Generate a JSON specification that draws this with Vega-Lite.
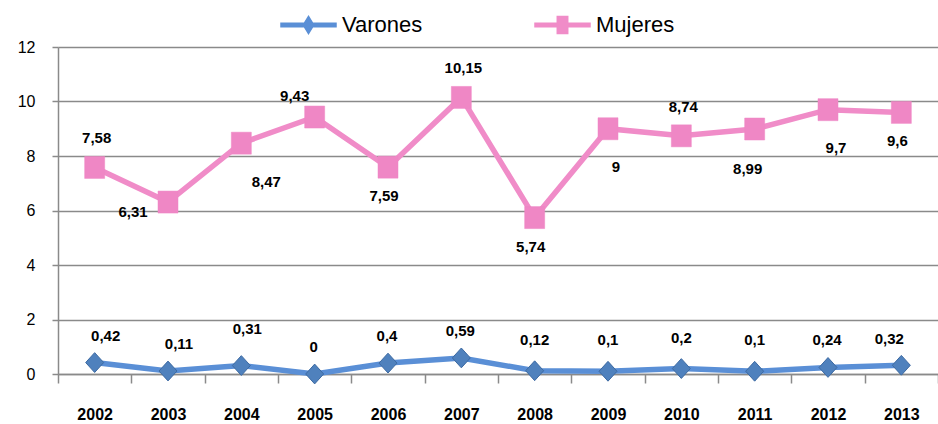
{
  "$schema": "https://vega.github.io/schema/vega-lite/v6.json",
  "width": 880,
  "height": 327,
  "autosize": {"type": "none"},
  "padding": {"left": 58, "top": 47, "right": 0, "bottom": 50},
  "background": "#ffffff",
  "config": {
    "view": {"stroke": null},
    "font": "Liberation Sans",
    "legend": {
      "orient": "none", "direction": "horizontal", "title": null,
      "legendX": 222, "legendY": -51, "padding": 0,
      "symbolSize": 3025, "symbolOpacity": 1, "labelOffset": 5, "columnPadding": 109,
      "labelFont": "Liberation Sans", "labelFontSize": 22, "labelColor": "#000000", "labelLimit": 300
    }
  },
  "data": {
    "values": [
      {"year": "2002", "serie": "Varones", "value": 0.42},
      {"year": "2003", "serie": "Varones", "value": 0.11},
      {"year": "2004", "serie": "Varones", "value": 0.31},
      {"year": "2005", "serie": "Varones", "value": 0},
      {"year": "2006", "serie": "Varones", "value": 0.4},
      {"year": "2007", "serie": "Varones", "value": 0.59},
      {"year": "2008", "serie": "Varones", "value": 0.12},
      {"year": "2009", "serie": "Varones", "value": 0.1},
      {"year": "2010", "serie": "Varones", "value": 0.2},
      {"year": "2011", "serie": "Varones", "value": 0.1},
      {"year": "2012", "serie": "Varones", "value": 0.24},
      {"year": "2013", "serie": "Varones", "value": 0.32},
      {"year": "2002", "serie": "Mujeres", "value": 7.58},
      {"year": "2003", "serie": "Mujeres", "value": 6.31},
      {"year": "2004", "serie": "Mujeres", "value": 8.47},
      {"year": "2005", "serie": "Mujeres", "value": 9.43},
      {"year": "2006", "serie": "Mujeres", "value": 7.59},
      {"year": "2007", "serie": "Mujeres", "value": 10.15},
      {"year": "2008", "serie": "Mujeres", "value": 5.74},
      {"year": "2009", "serie": "Mujeres", "value": 9},
      {"year": "2010", "serie": "Mujeres", "value": 8.74},
      {"year": "2011", "serie": "Mujeres", "value": 8.99},
      {"year": "2012", "serie": "Mujeres", "value": 9.7},
      {"year": "2013", "serie": "Mujeres", "value": 9.6}
    ]
  },
  "transform": [
    {"calculate": "replace(format(datum.value, '~g'), '.', ',')", "as": "label"}
  ],
  "encoding": {
    "x": {
      "field": "year", "type": "ordinal",
      "scale": {"paddingInner": 0, "paddingOuter": 0},
      "axis": {
        "title": null, "labelAngle": 0,
        "labelFont": "Liberation Sans", "labelFontSize": 16, "labelFontWeight": "bold", "labelColor": "#000000",
        "labelPadding": 23,
        "domain": true, "domainColor": "#8a8a8a", "domainWidth": 1.5,
        "ticks": true, "tickBand": "extent", "tickSize": 9, "tickColor": "#8a8a8a", "tickWidth": 1.5,
        "grid": false
      }
    },
    "y": {
      "field": "value", "type": "quantitative",
      "scale": {"domain": [0, 12], "nice": false, "zero": true},
      "axis": {
        "title": null, "values": [0, 2, 4, 6, 8, 10, 12],
        "labelFont": "Liberation Sans", "labelFontSize": 16, "labelColor": "#000000",
        "labelPadding": 17,
        "domain": true, "domainColor": "#8a8a8a", "domainWidth": 1.5,
        "ticks": true, "tickSize": 6, "tickColor": "#8a8a8a", "tickWidth": 1.5,
        "grid": true, "gridColor": "#8a8a8a", "gridWidth": 1.5
      }
    }
  },
  "layer": [
    {
      "mark": {"type": "point", "filled": true, "opacity": 0, "size": 1},
      "encoding": {
        "color": {
          "field": "serie", "type": "nominal",
          "scale": {"domain": ["Varones", "Mujeres"], "range": ["#5A8FD6", "#F08CC8"]},
          "legend": {
            "encode": {
              "symbols": {
                "update": {
                  "stroke": {"signal": "datum.value == 'Varones' ? '#4F81BD' : '#EF87C5'"},
                  "opacity": {"value": 1},
                  "size": {"value": 3025}
                }
              }
            }
          }
        },
        "shape": {
          "field": "serie", "type": "nominal",
          "scale": {
            "domain": ["Varones", "Mujeres"],
            "range": [
              "M-1,-0.06H1V0.06H-1Z M0,-0.31L0.19,0L0,0.31L-0.19,0Z",
              "M-1,-0.06H1V0.06H-1Z M-0.19,-0.31H0.19V0.31H-0.19Z"
            ]
          },
          "legend": {
            "encode": {
              "symbols": {
                "update": {
                  "stroke": {"signal": "datum.value == 'Varones' ? '#4F81BD' : '#EF87C5'"},
                  "opacity": {"value": 1},
                  "size": {"value": 3025}
                }
              }
            }
          }
        }
      }
    },
    {
      "mark": {"type": "line", "strokeWidth": 5.5},
      "encoding": {
        "color": {
          "field": "serie", "type": "nominal",
          "legend": null
        }
      }
    },
    {
      "transform": [{"filter": "datum.serie == 'Varones'"}],
      "mark": {"type": "point", "shape": "M0,-1.1L1,0L0,1.1L-1,0Z", "size": 324, "filled": true, "fill": "#4F81BD", "stroke": "#3D6AA2", "strokeWidth": 1, "opacity": 1}
    },
    {
      "transform": [{"filter": "datum.serie == 'Mujeres'"}],
      "mark": {"type": "point", "shape": "M-1,-1.1H1V1.1H-1Z", "size": 400, "filled": true, "fill": "#EF87C5", "stroke": "#EF87C5", "strokeWidth": 0.5, "opacity": 1}
    },
    {
      "transform": [{"filter": {"and": [{"field": "serie", "equal": "Varones"}, {"field": "year", "oneOf": ["2002", "2003"]}]}}],
      "mark": {"type": "text", "dx": 11, "dy": -27, "font": "Liberation Sans", "fontSize": 15, "fontWeight": "bold", "color": "#000000"},
      "encoding": {"text": {"field": "label"}}
    },
    {
      "transform": [{"filter": {"and": [{"field": "serie", "equal": "Varones"}, {"field": "year", "oneOf": ["2004"]}]}}],
      "mark": {"type": "text", "dx": 6, "dy": -37, "font": "Liberation Sans", "fontSize": 15, "fontWeight": "bold", "color": "#000000"},
      "encoding": {"text": {"field": "label"}}
    },
    {
      "transform": [{"filter": {"and": [{"field": "serie", "equal": "Varones"}, {"field": "year", "oneOf": ["2005", "2006", "2007", "2012"]}]}}],
      "mark": {"type": "text", "dx": -1, "dy": -27, "font": "Liberation Sans", "fontSize": 15, "fontWeight": "bold", "color": "#000000"},
      "encoding": {"text": {"field": "label"}}
    },
    {
      "transform": [{"filter": {"and": [{"field": "serie", "equal": "Varones"}, {"field": "year", "oneOf": ["2008", "2009", "2010", "2011"]}]}}],
      "mark": {"type": "text", "dx": 0, "dy": -31, "font": "Liberation Sans", "fontSize": 15, "fontWeight": "bold", "color": "#000000"},
      "encoding": {"text": {"field": "label"}}
    },
    {
      "transform": [{"filter": {"and": [{"field": "serie", "equal": "Varones"}, {"field": "year", "oneOf": ["2013"]}]}}],
      "mark": {"type": "text", "dx": -12, "dy": -26, "font": "Liberation Sans", "fontSize": 15, "fontWeight": "bold", "color": "#000000"},
      "encoding": {"text": {"field": "label"}}
    },
    {
      "transform": [{"filter": {"and": [{"field": "serie", "equal": "Mujeres"}, {"field": "year", "oneOf": ["2002", "2007", "2010"]}]}}],
      "mark": {"type": "text", "dx": 2, "dy": -29, "font": "Liberation Sans", "fontSize": 15, "fontWeight": "bold", "color": "#000000"},
      "encoding": {"text": {"field": "label"}}
    },
    {
      "transform": [{"filter": {"and": [{"field": "serie", "equal": "Mujeres"}, {"field": "year", "oneOf": ["2005"]}]}}],
      "mark": {"type": "text", "dx": -20, "dy": -21, "font": "Liberation Sans", "fontSize": 15, "fontWeight": "bold", "color": "#000000"},
      "encoding": {"text": {"field": "label"}}
    },
    {
      "transform": [{"filter": {"and": [{"field": "serie", "equal": "Mujeres"}, {"field": "year", "oneOf": ["2003"]}]}}],
      "mark": {"type": "text", "dx": -35, "dy": 10, "font": "Liberation Sans", "fontSize": 15, "fontWeight": "bold", "color": "#000000"},
      "encoding": {"text": {"field": "label"}}
    },
    {
      "transform": [{"filter": {"and": [{"field": "serie", "equal": "Mujeres"}, {"field": "year", "oneOf": ["2004"]}]}}],
      "mark": {"type": "text", "dx": 25, "dy": 39, "font": "Liberation Sans", "fontSize": 15, "fontWeight": "bold", "color": "#000000"},
      "encoding": {"text": {"field": "label"}}
    },
    {
      "transform": [{"filter": {"and": [{"field": "serie", "equal": "Mujeres"}, {"field": "year", "oneOf": ["2006", "2008", "2013"]}]}}],
      "mark": {"type": "text", "dx": -4, "dy": 29, "font": "Liberation Sans", "fontSize": 15, "fontWeight": "bold", "color": "#000000"},
      "encoding": {"text": {"field": "label"}}
    },
    {
      "transform": [{"filter": {"and": [{"field": "serie", "equal": "Mujeres"}, {"field": "year", "oneOf": ["2009", "2012"]}]}}],
      "mark": {"type": "text", "dx": 8, "dy": 38, "font": "Liberation Sans", "fontSize": 15, "fontWeight": "bold", "color": "#000000"},
      "encoding": {"text": {"field": "label"}}
    },
    {
      "transform": [{"filter": {"and": [{"field": "serie", "equal": "Mujeres"}, {"field": "year", "oneOf": ["2011"]}]}}],
      "mark": {"type": "text", "dx": -7, "dy": 40, "font": "Liberation Sans", "fontSize": 15, "fontWeight": "bold", "color": "#000000"},
      "encoding": {"text": {"field": "label"}}
    }
  ]
}
